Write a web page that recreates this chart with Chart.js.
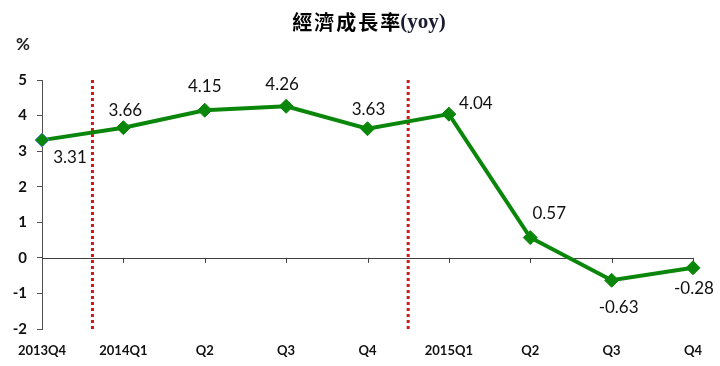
<!DOCTYPE html>
<html>
<head>
<meta charset="utf-8">
<script src="https://cdn.jsdelivr.net/npm/chart.js@4"></script>
<style>
html,body{margin:0;padding:0;background:#fff;}
#wrap{width:720px;height:366px;position:relative;}
</style>
</head>
<body>
<div id="wrap"><canvas id="c" width="720" height="366"></canvas></div>
<script>
const categories = ['2013Q4','2014Q1','Q2','Q3','Q4','2015Q1','Q2','Q3','Q4'];
const growth = [3.31, 3.66, 4.15, 4.26, 3.63, 4.04, 0.57, -0.63, -0.28];
const valueLabels = ['3.31','3.66','4.15','4.26','3.63','4.04','0.57','-0.63','-0.28'];
const yTicks = [-2,-1,0,1,2,3,4,5];
const dividers = [0.62, 4.5]; // category-index positions of the year dividers

const labelOffsets = [[28,17],[2,-17],[0,-24],[-4,-22],[1,-19],[27,-11],[19,-24],[7,27],[1,21]];

const overlay = {
  id:'overlay',
  beforeDatasetsDraw(chart){
    const {ctx, scales:{x,y}} = chart;
    ctx.save();
    const y0 = y.getPixelForValue(0);
    ctx.strokeStyle = '#404040';
    ctx.lineWidth = 1;
    ctx.beginPath();
    ctx.moveTo(x.getPixelForValue(0), Math.round(y0)+0.5);
    ctx.lineTo(x.getPixelForValue(categories.length-1), Math.round(y0)+0.5);
    for(let i=1;i<categories.length;i++){
      const px = Math.round(x.getPixelForValue(i))+0.5;
      ctx.moveTo(px, y0);
      ctx.lineTo(px, y0+5);
    }
    ctx.stroke();
    ctx.strokeStyle = '#D01818';
    ctx.lineWidth = 3;
    ctx.setLineDash([3,3]);
    dividers.forEach(d=>{
      const px = x.getPixelForValue(d);
      ctx.beginPath();
      ctx.moveTo(px, y.getPixelForValue(5));
      ctx.lineTo(px, y.getPixelForValue(-2)+1);
      ctx.stroke();
    });
    ctx.restore();
  },
  afterDatasetsDraw(chart){
    const {ctx} = chart;
    const meta = chart.getDatasetMeta(0);
    ctx.save();
    ctx.font = '17px Lato, "Open Sans", sans-serif';
    ctx.fillStyle = '#111';
    ctx.textAlign = 'center';
    ctx.textBaseline = 'middle';
    meta.data.forEach((pt,i)=>{
      const o = labelOffsets[i];
      ctx.fillText(valueLabels[i], pt.x + o[0], pt.y + o[1]);
    });
    ctx.textAlign = 'left';
    const zh = '經濟成長率';
    const en = '(yoy)';
    ctx.font = 'bold 20px "Noto Sans CJK TC", sans-serif';
    const w1 = ctx.measureText(zh).width + 8;
    ctx.font = 'bold 21px "Liberation Serif", serif';
    const w2 = ctx.measureText(en).width;
    const start = 369 - (w1 + w2)/2;
    ctx.font = 'bold 20px "Noto Sans CJK TC", sans-serif';
    ctx.fillStyle = '#000';
    let cx = start;
    for(const ch of zh){
      ctx.fillText(ch, cx, 22);
      cx += ctx.measureText(ch).width + 2;
    }
    ctx.font = 'bold 21px "Liberation Serif", serif';
    ctx.fillStyle = '#1a1a30';
    ctx.fillText(en, start + w1, 23);
    ctx.font = 'bold 17px Lato, sans-serif';
    ctx.fillStyle = '#222';
    ctx.textAlign = 'center';
    ctx.fillText('%', 23, 45);
    ctx.restore();
  }
};

new Chart(document.getElementById('c'), {
  type:'line',
  data:{
    labels: categories,
    datasets:[{
      data: growth,
      borderColor:'#0A870A',
      borderWidth:4,
      backgroundColor:'#0A870A',
      pointStyle:'rectRot',
      pointRadius:7,
      pointBackgroundColor:'#0A870A',
      pointBorderColor: growth.map((v,i)=> i===0 ? '#4F81BD' : '#0A870A'),
      pointBorderWidth:1,
      tension:0,
      clip:false
    }]
  },
  options:{
    responsive:false,
    animation:false,
    devicePixelRatio:1,
    layout:{padding:{top:80,right:27,left:0,bottom:0}},
    plugins:{legend:{display:false},tooltip:{enabled:false},title:{display:false}},
    scales:{
      x:{
        type:'category',
        offset:false,
        border:{display:false},
        grid:{display:false,drawTicks:false},
        ticks:{
          padding:14,
          maxRotation:0,
          autoSkip:false,
          color:'#111',
          font:{family:'Lato, "Open Sans", sans-serif',size:13,weight:'bold'}
        },
        afterFit(s){ s.height = 37; }
      },
      y:{
        min:-2,max:5,
        afterBuildTicks(s){ s.ticks = yTicks.map(v=>({value:v})); },
        border:{display:true,color:'#505050',width:1},
        grid:{drawOnChartArea:false,drawTicks:true,tickLength:5,color:'#505050'},
        ticks:{
          padding:10,
          color:'#111',
          font:{family:'Lato, "Open Sans", sans-serif',size:15,weight:'bold'}
        },
        afterFit(s){ s.width = 42; }
      }
    }
  },
  plugins:[overlay]
});
</script>
</body>
</html>
